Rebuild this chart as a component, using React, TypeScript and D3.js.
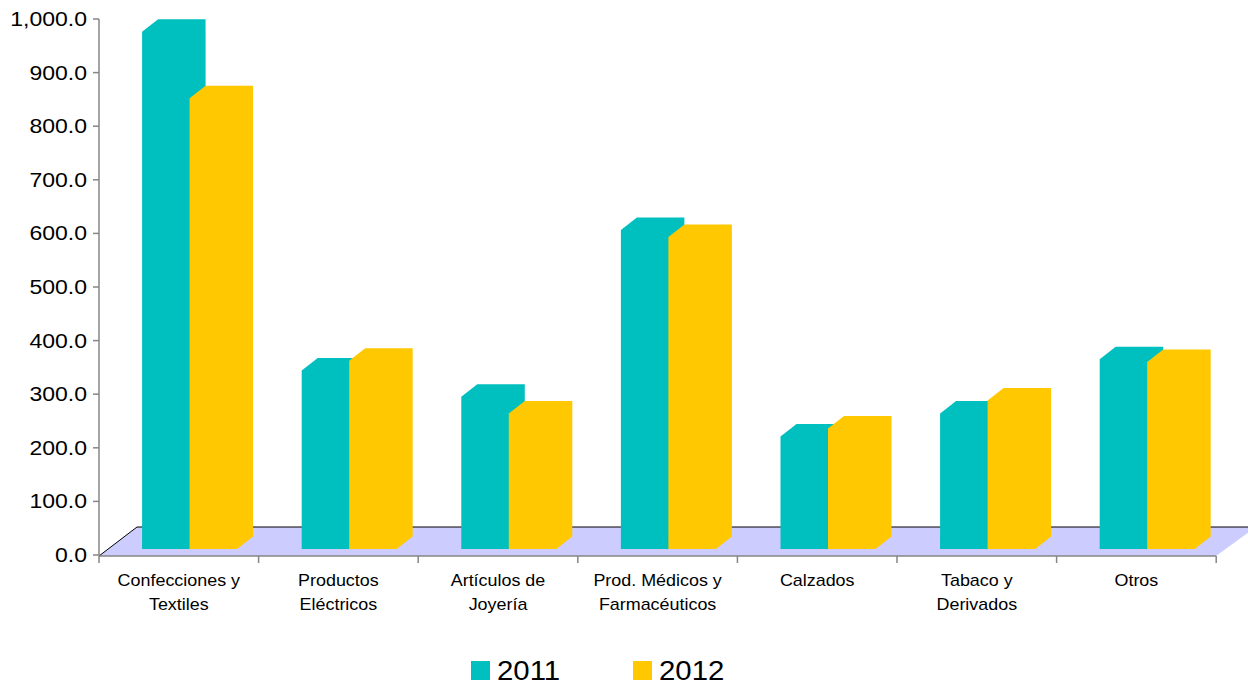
import React from "react";
import * as d3 from "d3";

const categories = [
  ["Confecciones y", "Textiles"],
  ["Productos", "Eléctricos"],
  ["Artículos de", "Joyería"],
  ["Prod. Médicos y", "Farmacéuticos"],
  ["Calzados"],
  ["Tabaco y", "Derivados"],
  ["Otros"],
];
const series = ["2011", "2012"];
const values2011 = [965, 333, 284, 595, 210, 253, 354];
const values2012 = [841, 351, 253, 582, 225, 277, 349];
const yTicks = [0, 100, 200, 300, 400, 500, 600, 700, 800, 900, 1000];
const colors = ["#00BFBF", "#FFC800"];

const W = 1248;
const H = 685;

export default function App() {
  const keys = categories.map((_, i) => String(i));
  const x = d3.scaleBand<string>().domain(keys).range([99, 1216.2]).padding(0);
  const bw = x.bandwidth();
  const y = d3.scaleLinear().domain([0, 1000]).range([555, 19]);
  const groupW = 95;
  const xs = d3.scaleBand<string>().domain(series).range([0, groupW]).padding(0);
  const dx = 16;
  const dy = 12.5;
  const frontShiftY = -6;
  const baseY = y(0) + frontShiftY;
  const fmt = d3.format(",.1f");
  const data = [values2011, values2012];

  const bars: React.ReactNode[] = [];
  keys.forEach((k, i) => {
    series.forEach((s, si) => {
      const v = data[si][i];
      const x0 = (x(k) as number) + bw * 0.27 + (xs(s) as number);
      const x1 = x0 + xs.bandwidth();
      const yt = y(v) + frontShiftY;
      const pts = [
        [x0, baseY],
        [x0, yt],
        [x0 + dx, yt - dy],
        [x1 + dx, yt - dy],
        [x1 + dx, baseY - dy],
        [x1, baseY],
      ];
      bars.push(
        <polygon key={`${k}-${s}`} points={pts.map((p) => p.join(",")).join(" ")} fill={colors[si]} />
      );
    });
  });

  const floorFrontY = 556;
  const floorBackY = 527;

  return (
    <svg width={W} height={H} style={{ position: "absolute", left: 0, top: 0, background: "#fff" }} fontFamily="Arial, 'Liberation Sans', sans-serif">
      <polygon
        points={`99,${floorFrontY} 137,${floorBackY} 1256,${floorBackY} 1216,${floorFrontY}`}
        fill="#CCCCFF"
      />
      <line x1={99} y1={floorFrontY} x2={137} y2={floorBackY} stroke="#000" strokeWidth={1} />
      <line x1={137} y1={floorBackY} x2={1256} y2={floorBackY} stroke="#000" strokeWidth={1} />
      {bars}
      {/* y axis */}
      <line x1={99} y1={y(1000)} x2={99} y2={y(0)} stroke="#868686" strokeWidth={1.5} />
      {yTicks.map((t) => (
        <g key={t}>
          <line x1={93} x2={99} y1={y(t)} y2={y(t)} stroke="#868686" strokeWidth={1.5} />
          <g transform={`translate(87,${y(t)}) scale(1.18,1)`}>
            <text x={0} y={0} dy="0.36em" textAnchor="end" fontSize={19.5} fill="#000">
              {fmt(t)}
            </text>
          </g>
        </g>
      ))}
      {/* x axis */}
      <line x1={99} y1={floorFrontY} x2={1216.2} y2={floorFrontY} stroke="#868686" strokeWidth={1.5} />
      {[...keys.map((k) => x(k) as number), 1216.2].map((px, i) => (
        <line key={i} x1={px} x2={px} y1={floorFrontY} y2={563} stroke="#868686" strokeWidth={1.5} />
      ))}
      {categories.map((lines, i) => (
        <g key={i} transform={`translate(${(x(keys[i]) as number) + bw / 2},586) scale(1.12,1)`}>
          <text x={0} y={0} textAnchor="middle" fontSize={16} fill="#000">
            {lines.map((l, j) => (
              <tspan key={j} x={0} dy={j === 0 ? 0 : 24}>
                {l}
              </tspan>
            ))}
          </text>
        </g>
      ))}
      {/* legend */}
      {series.map((s, si) => {
        const lx = 471 + si * 162;
        return (
          <g key={s}>
            <rect x={lx} y={661} width={19} height={19} fill={colors[si]} />
            <g transform={`translate(${lx + 26},680) scale(1.05,1)`}>
              <text x={0} y={0} fontSize={28} fill="#000">
                {s}
              </text>
            </g>
          </g>
        );
      })}
    </svg>
  );
}
